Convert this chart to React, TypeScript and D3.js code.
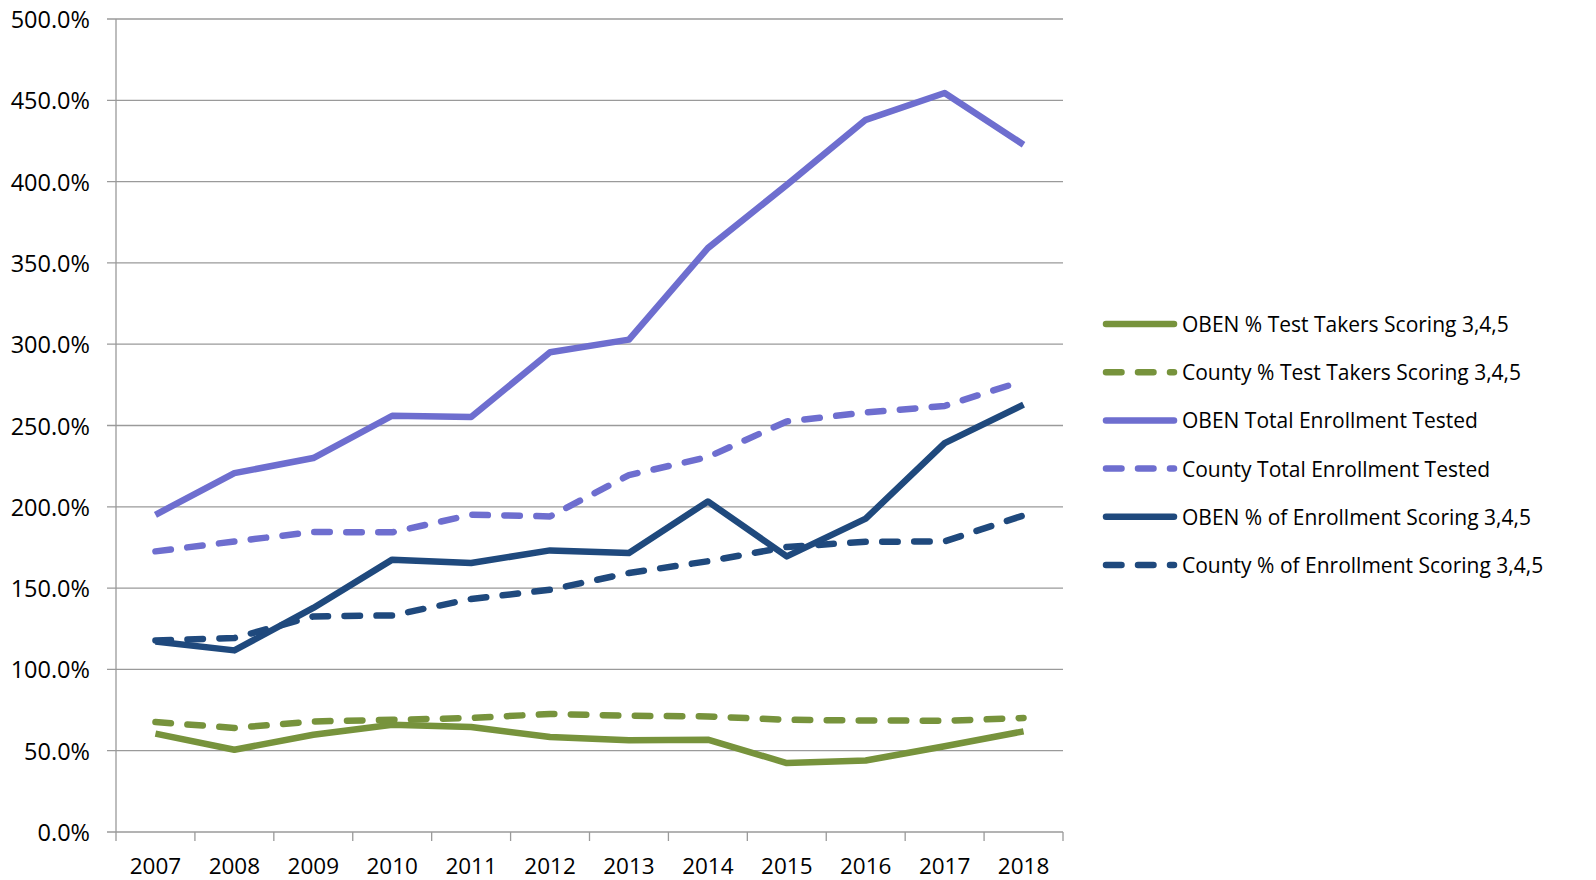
import React from "react";
import * as d3 from "d3";

const years = ["2007","2008","2009","2010","2011","2012","2013","2014","2015","2016","2017","2018"];
const yTicks = [0, 50, 100, 150, 200, 250, 300, 350, 400, 450, 500];

const obenTestTakers = [60.5, 50.6, 59.8, 66, 64.6, 58.4, 56.4, 56.8, 42.4, 44, 52.7, 61.9];
const countyTestTakers = [67.6, 64, 68, 69, 70.1, 72.6, 71.5, 71.1, 69, 68.6, 68.4, 70.1];
const obenTotalEnroll = [195.1, 220.7, 230, 256, 255.2, 295, 302.8, 359.1, 398, 438, 454.5, 422.7];
const countyTotalEnroll = [172.6, 178.7, 184.5, 184.3, 195.1, 194.1, 219.5, 230.6, 252.5, 258, 262, 277.5];
const obenPctEnroll = [117.2, 111.7, 137.8, 167.5, 165.4, 173.2, 171.6, 203.3, 169.5, 192.7, 239.2, 262.8];
const countyPctEnroll = [117.8, 119.3, 132.6, 133.2, 143.3, 149, 159.3, 166.5, 175.3, 178.5, 178.7, 194.7];

const seriesNames = [
  "OBEN % Test Takers Scoring 3,4,5",
  "County % Test Takers Scoring 3,4,5",
  "OBEN Total Enrollment Tested",
  "County Total Enrollment Tested",
  "OBEN % of Enrollment Scoring 3,4,5",
  "County % of Enrollment Scoring 3,4,5",
];
const seriesValues = [obenTestTakers, countyTestTakers, obenTotalEnroll, countyTotalEnroll, obenPctEnroll, countyPctEnroll];
const seriesColors = ["#77933C", "#77933C", "#6E6ECF", "#6E6ECF", "#1F497D", "#1F497D"];
const seriesDashed = [false, true, false, true, false, true];

const W = 1596, H = 880;
const left = 116, right = 1063, top = 19, bottom = 832;
const FONT = "'Open Sans', Lato, sans-serif";
const SW = 6.5;
const DASH = "15.5 16.5";

export default function App() {
  const x = d3.scaleBand<string>().domain(years).range([left, right]).padding(0);
  const y = d3.scaleLinear().domain([0, 500]).range([bottom, top]);
  const cx = (i: number) => (x(years[i]) as number) + x.bandwidth() / 2;
  const line = d3.line<number>().x((_, i) => cx(i)).y((d) => y(d));
  const grid = "#9a9a9a";
  const legendX0 = 1106, legendX1 = 1174, legendTextX = 1182, legendY0 = 324, legendStep = 48.2;

  return (
    <svg width={W} height={H} style={{ position: "absolute", left: 0, top: 0, background: "#fff" }}>
      {yTicks.map((t) => (
        <g key={t}>
          <line x1={left - 9} x2={right} y1={y(t)} y2={y(t)} stroke={grid} strokeWidth={1.3} />
          <text x={90} y={y(t)} textAnchor="end" dominantBaseline="central" fontFamily={FONT} fontSize={23.5} fill="#000">
            {t.toFixed(1) + "%"}
          </text>
        </g>
      ))}
      <line x1={left} x2={left} y1={top} y2={bottom} stroke={grid} strokeWidth={1.3} />
      {years.map((yr, i) => (
        <g key={yr}>
          <line x1={x(yr) as number} x2={x(yr) as number} y1={bottom} y2={bottom + 9} stroke={grid} strokeWidth={1.3} />
          <text x={cx(i)} y={873.5} textAnchor="middle" fontFamily={FONT} fontSize={22.5} fill="#000">{yr}</text>
        </g>
      ))}
      <line x1={right} x2={right} y1={bottom} y2={bottom + 9} stroke={grid} strokeWidth={1.3} />
      {seriesValues.map((vals, s) => (
        <path
          key={s}
          d={line(vals) as string}
          fill="none"
          stroke={seriesColors[s]}
          strokeWidth={SW}
          strokeLinejoin="round"
          strokeLinecap={seriesDashed[s] ? "round" : "butt"}
          strokeDasharray={seriesDashed[s] ? DASH : undefined}
        />
      ))}
      {seriesNames.map((name, s) => {
        const ly = legendY0 + s * legendStep;
        return (
          <g key={name}>
            <line
              x1={legendX0}
              x2={legendX1}
              y1={ly}
              y2={ly}
              stroke={seriesColors[s]}
              strokeWidth={SW}
              strokeLinecap="round"
              strokeDasharray={seriesDashed[s] ? DASH : undefined}
            />
            <text x={legendTextX} y={ly} dominantBaseline="central" fontFamily={FONT} fontSize={21} fill="#000">{name}</text>
          </g>
        );
      })}
    </svg>
  );
}
